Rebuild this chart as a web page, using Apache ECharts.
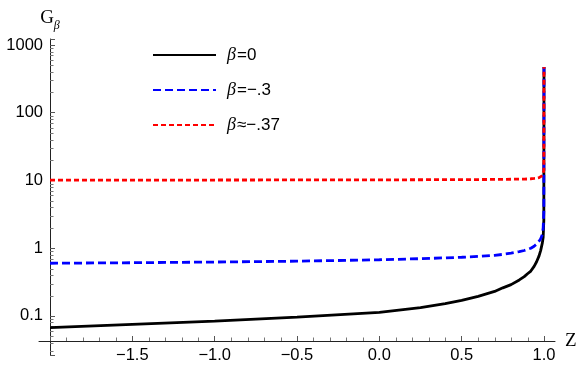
<!DOCTYPE html>
<html>
<head>
<meta charset="utf-8">
<script src="https://cdn.jsdelivr.net/npm/echarts@6/dist/echarts.min.js"></script>
<style>
html, body { margin: 0; padding: 0; background: #fff; }
#main { width: 581px; height: 369px; }
</style>
</head>
<body>
<div id="main"></div>
<script>
// data
const zValues = [-2, -1.5, -1, -0.5, 0, 0.25, 0.4, 0.5, 0.6, 0.7, 0.75, 0.8, 0.85, 0.88, 0.9, 0.92, 0.94, 0.955, 0.97, 0.98, 0.99, 0.995, 0.999, 1];
const gBeta0 = [0.067, 0.075, 0.084, 0.096, 0.113, 0.133, 0.152, 0.17, 0.195, 0.23, 0.26, 0.29, 0.34, 0.38, 0.42, 0.46, 0.54, 0.63, 0.77, 0.93, 1.2, 1.45, 2.6, 475];
const gBeta03 = [0.60, 0.61, 0.625, 0.643, 0.675, 0.70, 0.72, 0.735, 0.755, 0.785, 0.81, 0.845, 0.89, 0.925, 0.96, 1.0, 1.07, 1.15, 1.27, 1.38, 1.6, 2.0, 3.5, 475];
const gBeta037 = [10.1, 10.12, 10.15, 10.18, 10.2, 10.25, 10.28, 10.3, 10.32, 10.36, 10.38, 10.42, 10.46, 10.5, 10.52, 10.6, 10.7, 10.8, 11.0, 11.3, 11.8, 12.4, 14, 475];
const seriesNames = ['β=0', 'β=−.3', 'β≈−.37'];
const xTickLabels = [-1.5, -1, -0.5, 0, 0.5, 1];
const xMinorTicks = [-1.9, -1.8, -1.7, -1.6, -1.4, -1.3, -1.2, -1.1, -0.9, -0.8, -0.7, -0.6,
  -0.4, -0.3, -0.2, -0.1, 0.1, 0.2, 0.3, 0.4, 0.6, 0.7, 0.8, 0.9];
const yTickLabels = [0.1, 1, 10, 100, 1000];
const yMinorMult = [2, 3, 4, 5, 6, 7, 8, 9];
const yDecades = [0.01, 0.1, 1, 10, 100];

const xMin = -2.0668, xMax = 1.0668;
const yMin = 0.0265, yMax = 1226;
const xAxisShift = 14; // x axis sits above the bottom of the plot range

function pairs(vals) {
  return zValues.map((z, i) => [z, vals[i]]);
}

// minor ticks on the log axis (2..9 per decade), drawn through the axis scale
let yMinor = [];
yDecades.forEach(d => yMinorMult.forEach(m => {
  const v = d * m;
  if (v > yMin && v < yMax) yMinor.push([-2, v]);
}));
let xMinor = xMinorTicks.map(x => [x, yMin]);

let chart = echarts.init(document.getElementById('main'));

let option = {
  animation: false,
  grid: { left: 39, right: 26, top: 39, bottom: 14 },
  legend: {
    data: seriesNames,
    orient: 'vertical',
    left: 152,
    top: 46,
    padding: 0,
    itemWidth: 63,
    itemHeight: 14,
    itemGap: 17,
    itemStyle: { opacity: 0 },
    formatter: n => '{b|β}{t|' + n.slice(1) + '}',
    textStyle: {
      fontFamily: 'Liberation Sans',
      fontSize: 17,
      color: '#000',
      rich: {
        b: { fontFamily: 'Liberation Serif', fontStyle: 'italic', fontSize: 18, color: '#000', padding: [0, 1, 0, 6] },
        t: { fontFamily: 'Liberation Sans', fontSize: 17, color: '#000' }
      }
    }
  },
  xAxis: {
    type: 'value',
    min: xMin,
    max: xMax,
    offset: -xAxisShift,
    name: 'Z',
    nameLocation: 'end',
    nameGap: 10,
    nameTextStyle: { fontFamily: 'Liberation Serif', fontSize: 19, color: '#000' },
    axisLine: { onZero: false, lineStyle: { color: '#222', width: 1 } },
    axisTick: { show: true, inside: true, length: 5, lineStyle: { color: '#555', width: 1 } },
    splitLine: { show: false },
    axisLabel: {
      margin: 6,
      fontFamily: 'Liberation Sans',
      fontSize: 16.5,
      color: '#000',
      showMinLabel: false,
      showMaxLabel: false,
      formatter: v => {
        if (!xTickLabels.some(t => Math.abs(t - v) < 1e-6)) return '';
        const r = Math.abs(v) < 1e-9 ? 0 : v;
        return r.toFixed(1).replace('-', '−');
      }
    }
  },
  yAxis: {
    type: 'log',
    logBase: 10,
    min: yMin,
    max: yMax,
    offset: -11,
    name: '{g|G}{s|β}',
    nameLocation: 'end',
    nameGap: 11,
    nameTextStyle: {
      rich: {
        g: { fontFamily: 'Liberation Serif', fontSize: 19, color: '#000', lineHeight: 22, verticalAlign: 'bottom' },
        s: { fontFamily: 'Liberation Serif', fontStyle: 'italic', fontSize: 12, color: '#000', lineHeight: 22, verticalAlign: 'bottom', padding: [0, 0, -4, 0] }
      }
    },
    axisLine: { onZero: false, lineStyle: { color: '#222', width: 1 } },
    axisTick: { show: true, inside: true, length: 5, lineStyle: { color: '#555', width: 1 } },
    splitLine: { show: false },
    axisLabel: {
      margin: 7,
      fontFamily: 'Liberation Sans',
      fontSize: 16.5,
      color: '#000',
      formatter: v => {
        const t = yTickLabels.find(t => Math.abs(Math.log10(v / t)) < 1e-6);
        return t === undefined ? '' : String(t);
      }
    }
  },
  series: [
    {
      name: seriesNames[0],
      type: 'line',
      symbol: 'none',
      data: pairs(gBeta0),
      lineStyle: { color: '#000', width: 2.8, type: 'solid' },
      itemStyle: { color: '#000' }
    },
    {
      name: seriesNames[1],
      type: 'line',
      symbol: 'none',
      data: pairs(gBeta03),
      lineStyle: { color: '#0000ff', width: 2.8, type: [8, 4] },
      itemStyle: { color: '#0000ff' }
    },
    {
      name: seriesNames[2],
      type: 'line',
      symbol: 'none',
      data: pairs(gBeta037),
      lineStyle: { color: '#ff0000', width: 2.8, type: [5, 3] },
      itemStyle: { color: '#ff0000' }
    },
    {
      name: 'yMinorTicks',
      type: 'custom',
      silent: true,
      clip: false,
      z: 1,
      data: yMinor,
      encode: { x: 0, y: 1 },
      renderItem: (params, api) => {
        const p = api.coord([api.value(0), api.value(1)]);
        const y = Math.round(p[1]) + 0.5;
        const x = Math.round(p[0]);
        return {
          type: 'line',
          shape: { x1: x, y1: y, x2: x + 3.5, y2: y },
          style: { stroke: '#777', lineWidth: 1 }
        };
      }
    },
    {
      name: 'xMinorTicks',
      type: 'custom',
      silent: true,
      clip: false,
      z: 1,
      data: xMinor,
      encode: { x: 0, y: 1 },
      renderItem: (params, api) => {
        const p = api.coord([api.value(0), api.value(1)]);
        const x = Math.round(p[0]) + 0.5;
        const y0 = Math.round(p[1] - xAxisShift);
        return {
          type: 'line',
          shape: { x1: x, y1: y0, x2: x, y2: y0 - 3.5 },
          style: { stroke: '#777', lineWidth: 1 }
        };
      }
    }
  ]
};

chart.setOption(option);
</script>
</body>
</html>
